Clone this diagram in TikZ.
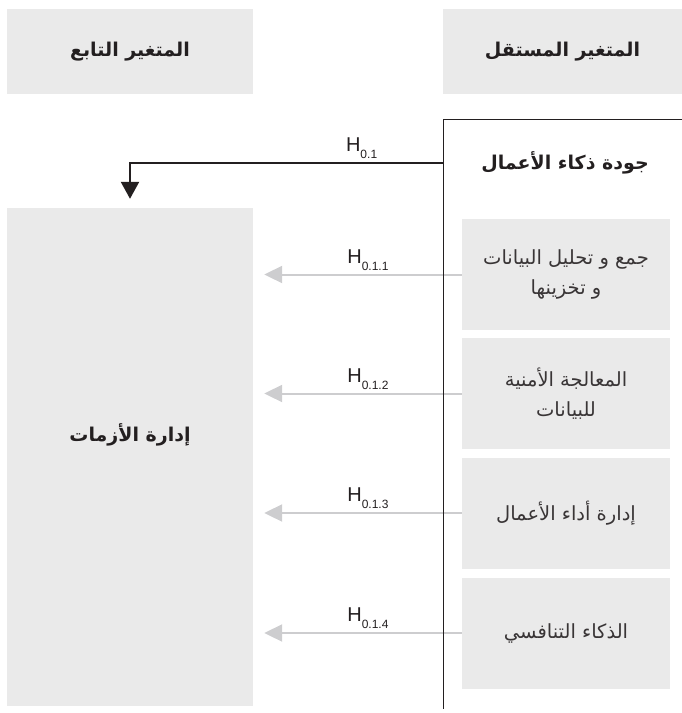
\documentclass[tikz,border=0pt]{standalone}
\usepackage{fontspec}
\usetikzlibrary{arrows.meta}
\newfontfamily\arabicfont[Script=Arabic]{DejaVu Sans}
\newfontfamily\latinfont{Liberation Sans}
\TeXXeTstate=1
\definecolor{boxgrey}{HTML}{EAEAEA}
\definecolor{arrowgrey}{HTML}{CDCDCF}
\definecolor{inkblack}{HTML}{231F20}
\newcommand\artxt[1]{\beginR#1\endR}
\newcommand\hypo[1]{H\raisebox{-7pt}{\fontsize{12}{12}\selectfont#1}}

\begin{document}
\begin{tikzpicture}[x=1pt,y=-1pt,
      greybox/.style={fill=boxgrey,inner sep=0pt},
      headtext/.style={font=\arabicfont\bfseries\fontsize{19}{22}\selectfont,text=inkblack},
      bodytext/.style={font=\arabicfont\fontsize{19.5}{30}\selectfont,text=inkblack!90,align=center},
      hyplabel/.style={font=\latinfont\fontsize{20}{20}\selectfont,text=inkblack,inner sep=3pt},
      mainpfeil/.style={-{Triangle[width=18pt,length=17pt]},line width=2.3pt,draw=inkblack},
      greypfeil/.style={-{Triangle[width=17pt,length=18pt]},line width=2pt,draw=arrowgrey,shorten >=11pt}]
    \useasboundingbox (0,0) rectangle (682,713);
    \node[greybox,headtext,minimum width=239pt,minimum height=85pt] at (562.5,51.5) (indep) {\artxt{المتغير المستقل}};
    \node[greybox,headtext,minimum width=246pt,minimum height=85pt] at (130,51.5) (dep) {\artxt{المتغير التابع}};
    \node[greybox,minimum width=246pt,minimum height=498pt] at (130,457) (depbox) {};
    \node[headtext] at (130,435) (crisis) {\artxt{إدارة الأزمات}};
    \coordinate (gtop) at (443,119);
    \coordinate (gend) at (682,119);
    \coordinate (gbot) at (443,709);
    \node[headtext] at (565,163) (bi) {\artxt{جودة ذكاء الأعمال}};
    \node[greybox,bodytext,minimum width=208pt,minimum height=111pt] at (566,274.5) (d1) {\artxt{جمع و تحليل البيانات}\\\artxt{و تخزينها}};
    \node[greybox,bodytext,minimum width=208pt,minimum height=111pt] at (566,393.5) (d2) {\artxt{المعالجة الأمنية}\\\artxt{للبيانات}};
    \node[greybox,bodytext,minimum width=208pt,minimum height=111pt] at (566,513) (d3) {\artxt{إدارة أداء الأعمال}};
    \node[greybox,bodytext,minimum width=208pt,minimum height=111pt] at (566,633) (d4) {\artxt{الذكاء التنافسي}};
    \draw[greypfeil] (d1.west) -- (d1.west -| depbox.east) node[hyplabel,pos=0.45,above] (h1) {\hypo{0.1.1}};
    \draw[greypfeil] (d2.west) -- (d2.west -| depbox.east) node[hyplabel,pos=0.45,above] (h2) {\hypo{0.1.2}};
    \draw[greypfeil] (d3.west) -- (d3.west -| depbox.east) node[hyplabel,pos=0.45,above] (h3) {\hypo{0.1.3}};
    \draw[greypfeil] (d4.west) -- (d4.west -| depbox.east) node[hyplabel,pos=0.45,above] (h4) {\hypo{0.1.4}};
    \draw[line width=1pt,inkblack] (gend) -- (gtop) -- (gbot);
    \draw[mainpfeil,shorten >=9pt] (bi -| gtop) -| (depbox.north) node[hyplabel,pos=0.13,above] (h0) {\hypo{0.1}};
  \end{tikzpicture}
\end{document}
